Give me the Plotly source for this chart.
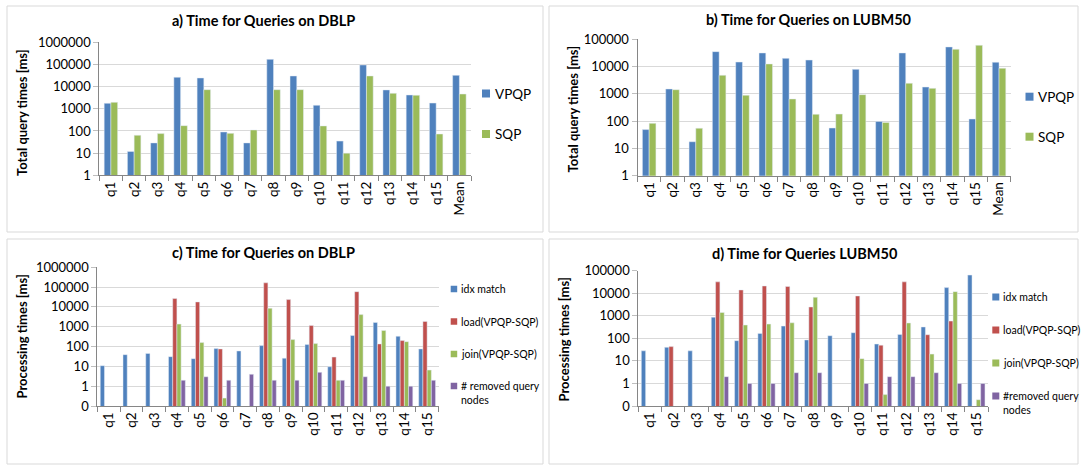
import plotly.graph_objects as go

W, H = 1082, 466

# ---------------- data ----------------
queries = ["q1", "q2", "q3", "q4", "q5", "q6", "q7", "q8", "q9", "q10",
           "q11", "q12", "q13", "q14", "q15"]
cats_ab = queries + ["Mean"]

dblp_vpqp = [1770, 12, 29, 26400, 24600, 90, 29, 170000, 30300, 1440, 35, 95000, 7100, 4200, 1820, 32400]
dblp_sqp = [1960, 64, 76, 174, 7300, 78, 111, 7300, 7300, 169, 10, 30300, 5000, 4100, 73, 4650]

lubm_vpqp = [49, 1510, 17.6, 35300, 14700, 31600, 20000, 17400, 56, 7900, 98, 31600, 1780, 52500, 120, 14400]
lubm_sqp = [83, 1420, 55, 4800, 890, 12500, 650, 178, 182, 935, 90, 2450, 1590, 43000, 60500, 8700]

c_idx = [10.8, 39, 45, 31, 24.5, 79, 60, 112, 26, 126, 9.6, 360, 1650, 330, 76]
c_load = [None, None, None, 26500, 17900, 76, None, 165000, 23500, 1170, 29.5, 59000, 136, 200, 1860]
c_join = [None, None, None, 1360, 159, 0.25, None, 8600, 225, 141, 2, 4100, 650, 177, 6.5]
c_removed = [None, None, None, 2, 3, 2, 4, 2, 2, 5, 2, 3, 1, 1, 2]

d_idx = [28, 40, 28, 870, 79, 166, 350, 85, 131, 178, 56, 150, 320, 17800, 64000]
d_load = [None, 43, None, 32000, 14000, 21000, 20000, 2460, None, 7600, 50, 32000, 145, 585, None]
d_join = [None, None, None, 1400, 390, 430, 490, 6600, None, 12.6, 0.32, 480, 20, 11800, 0.19]
d_removed = [None, None, None, 2, 1, 1, 3, 3, None, 1, 2, 2, 3, 1, 1]

ticks_ab_vals = [1, 10, 100, 1000, 10000, 100000, 1000000]
ticks_ab_text = ["1", "10", "100", "1000", "10000", "100000", "1000000"]
ticks_b_vals = [1, 10, 100, 1000, 10000, 100000]
ticks_b_text = ["1", "10", "100", "1000", "10000", "100000"]
ticks_c_vals = [0.1, 1, 10, 100, 1000, 10000, 100000, 1000000]
ticks_c_text = ["0", "1", "10", "100", "1000", "10000", "100000", "1000000"]
ticks_d_vals = [0.1, 1, 10, 100, 1000, 10000, 100000]
ticks_d_text = ["0", "1", "10", "100", "1000", "10000", "100000"]

names_ab = ["VPQP", "SQP"]
names_c = ["idx match", "load(VPQP-SQP)", "join(VPQP-SQP)", "# removed query<br>nodes"]
names_d = ["idx match", "load(VPQP-SQP)", "join(VPQP-SQP)", "#removed query<br>nodes"]

titles = ["a) Time for Queries on DBLP", "b) Time for Queries on LUBM50",
          "c) Time for Queries on DBLP", "d) Time for Queries LUBM50"]
ytitles = ["Total query times [ms]", "Total query times [ms]",
           "Processing times [ms]", "Processing times [ms]"]

BLUE, GREEN, RED, PURPLE = "#4F81BD", "#9BBB59", "#C0504D", "#8064A2"

FONT = "Lato, 'Open Sans', sans-serif"

def px(x):
    return x / W

def py(y):
    return 1 - y / H

fig = go.Figure()

# ---------------- bars ----------------
w2 = 0.29
for vals, name, col, off in [(dblp_vpqp, names_ab[0], BLUE, -w2), (dblp_sqp, names_ab[1], GREEN, 0)]:
    fig.add_trace(go.Bar(x=cats_ab, y=vals, name=name, marker_color=col, width=w2, offset=off,
                         xaxis="x", yaxis="y", showlegend=False))
for vals, name, col, off in [(lubm_vpqp, names_ab[0], BLUE, -w2), (lubm_sqp, names_ab[1], GREEN, 0)]:
    fig.add_trace(go.Bar(x=cats_ab, y=vals, name=name, marker_color=col, width=w2, offset=off,
                         xaxis="x2", yaxis="y2", showlegend=False))
w4 = 0.185
cols4 = [BLUE, RED, GREEN, PURPLE]
for i, vals in enumerate([c_idx, c_load, c_join, c_removed]):
    fig.add_trace(go.Bar(x=queries, y=vals, name=names_c[i], marker_color=cols4[i], width=w4,
                         offset=-2 * w4 + i * w4, xaxis="x3", yaxis="y3", showlegend=False))
for i, vals in enumerate([d_idx, d_load, d_join, d_removed]):
    fig.add_trace(go.Bar(x=queries, y=vals, name=names_d[i], marker_color=cols4[i], width=w4,
                         offset=-2 * w4 + i * w4, xaxis="x4", yaxis="y4", showlegend=False))

# ---------------- axes ----------------
plots = [
    # x0, x1, ytop, ybottom (pixels)
    (99.3, 471.0, 42.3, 175.3),
    (637.5, 1010.7, 39.3, 175.7),
    (97.3, 438.5, 267.3, 406.0),
    (638.3, 988.0, 270.7, 406.0),
]
ranges = [[0, 6], [0, 5], [-1, 6], [-1, 5]]
tvals = [ticks_ab_vals, ticks_b_vals, ticks_c_vals, ticks_d_vals]
ttext = [ticks_ab_text, ticks_b_text, ticks_c_text, ticks_d_text]

ytickfont = dict(family=FONT, size=13, color="#000000")
xtickfont = dict(family=FONT, size=13.5, color="#000000")
lay = {}
for i, (x0, x1, yt, yb) in enumerate(plots):
    sx = "" if i == 0 else str(i + 1)
    lay["xaxis" + sx] = dict(
        domain=[px(x0), px(x1)], anchor="y" + sx, type="category",
        showline=True, linecolor="#868686", linewidth=1,
        ticks="outside", tickson="boundaries", ticklen=5, tickcolor="#868686",
        tickangle=-90, tickfont=xtickfont, showgrid=False, automargin=False,
        fixedrange=True,
    )
    lay["yaxis" + sx] = dict(
        domain=[py(yb), py(yt)], anchor="x" + sx, type="log", range=ranges[i],
        tickvals=tvals[i], ticktext=ttext[i], tickfont=ytickfont,
        showline=True, linecolor="#868686", linewidth=1,
        ticks="outside", ticklen=5, tickcolor="#BFBFBF",
        showgrid=True, gridcolor="#D9D9D9", gridwidth=1, zeroline=False,
        automargin=False, fixedrange=True,
    )

# ---------------- frames, titles, legends ----------------
shapes = []
annotations = []
frames = [(7, 6, 543, 232), (549, 6, 1078, 232), (7, 239, 543, 464), (549, 239, 1078, 464)]
for (x0, y0, x1, y1) in frames:
    shapes.append(dict(type="rect", xref="paper", yref="paper", x0=px(x0), x1=px(x1),
                       y0=py(y1), y1=py(y0), line=dict(color="#D9D9D9", width=1), layer="below"))

title_pos = [(263, 20.7), (809, 19.5), (263.5, 252), (805, 253)]
for t, (x, y) in zip(titles, title_pos):
    annotations.append(dict(text="<b>" + t + "</b>", x=px(x), y=py(y), xref="paper", yref="paper",
                            xanchor="center", yanchor="middle", showarrow=False,
                            font=dict(family=FONT, size=14.5, color="#000000")))

ytitle_pos = [(22, 113), (572.5, 109), (21.5, 337), (563.5, 340)]
for t, (x, y) in zip(ytitles, ytitle_pos):
    annotations.append(dict(text="<b>" + t + "</b>", x=px(x), y=py(y), xref="paper", yref="paper",
                            xanchor="center", yanchor="middle", showarrow=False, textangle=-90,
                            font=dict(family=FONT, size=13, color="#000000")))

def legend(names, colors, sq_x, sq, ys, text_x, size):
    for n, c, y in zip(names, colors, ys):
        shapes.append(dict(type="rect", xref="paper", yref="paper",
                           x0=px(sq_x), x1=px(sq_x + sq), y0=py(y + sq / 2), y1=py(y - sq / 2),
                           fillcolor=c, line=dict(width=0)))
        two = "<br>" in n
        annotations.append(dict(text=n, x=px(text_x), y=py(y - 8 if two else y),
                                xref="paper", yref="paper", xanchor="left",
                                yanchor="top" if two else "middle", align="left",
                                showarrow=False,
                                font=dict(family=FONT, size=size, color="#000000")))

legend(names_ab, [BLUE, GREEN], 482, 8, [93.5, 134], 493, 13.5)
legend(names_ab, [BLUE, GREEN], 1025.5, 8, [96.7, 136.7], 1036, 13.5)
legend(names_c, cols4, 450.7, 6.5, [289, 321.5, 354, 386], 458.7, 10.5)
legend(names_d, cols4, 992.3, 7, [297, 330, 363, 396], 1001, 10.5)

fig.update_layout(
    width=W, height=H,
    margin=dict(l=0, r=0, t=0, b=0),
    paper_bgcolor="#FFFFFF", plot_bgcolor="#FFFFFF",
    barmode="overlay",
    showlegend=False,
    shapes=shapes, annotations=annotations,
    font=dict(family=FONT, color="#000000"),
    **lay,
)

fig.write_html("out.html", config={"displayModeBar": False},
               post_script="document.body.style.margin='0';document.body.style.padding='0';"
                           "document.body.style.overflow='hidden';")
